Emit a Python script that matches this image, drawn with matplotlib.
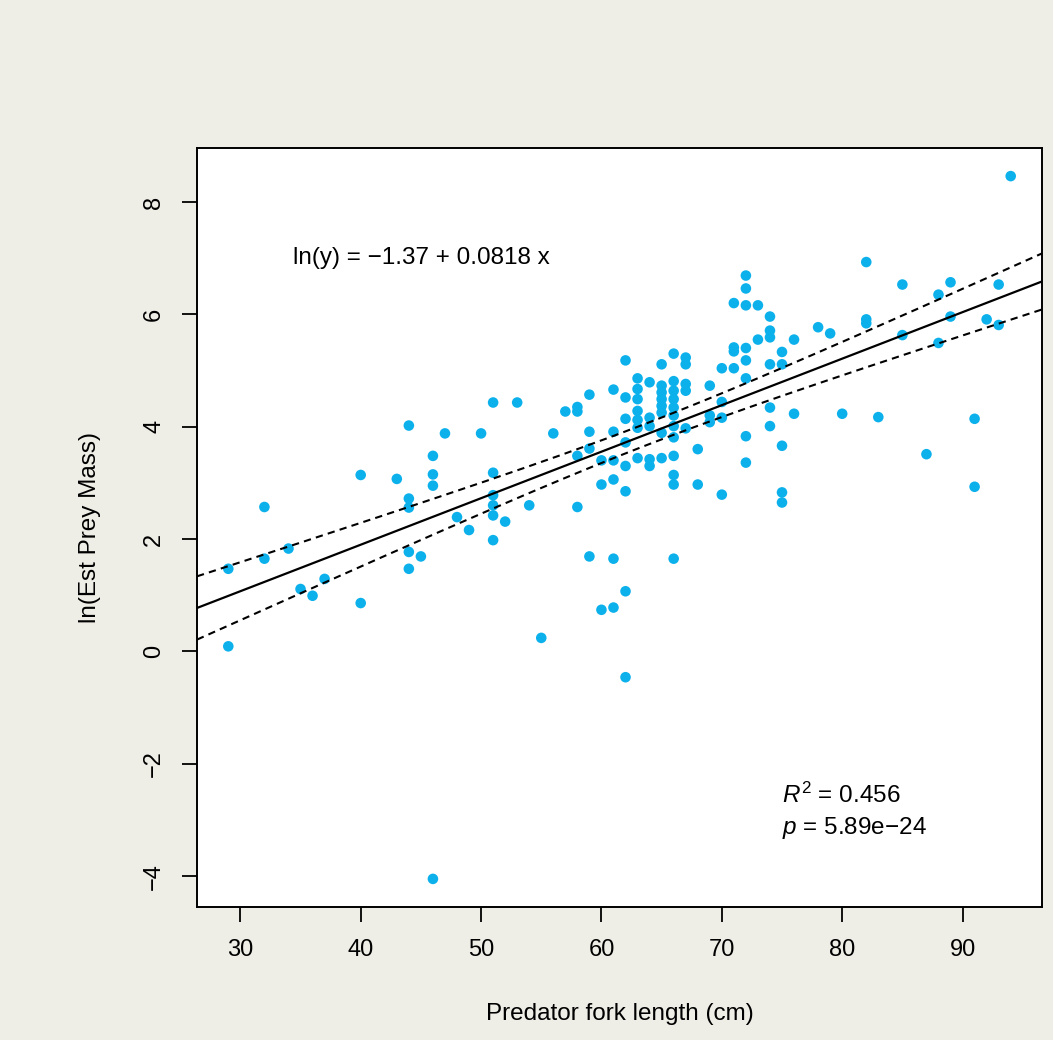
import numpy as np
import matplotlib
matplotlib.use("Agg")
import matplotlib.pyplot as plt

plt.rcParams["font.family"] = ["Liberation Sans", "DejaVu Sans"]
plt.rcParams["mathtext.fontset"] = "custom"
plt.rcParams["mathtext.rm"] = "Liberation Sans"
plt.rcParams["mathtext.it"] = "Liberation Sans:italic"

# predator fork length (cm) and ln(estimated prey mass)
fork_length = [
    29, 29, 32, 32, 34, 35, 36, 37, 40, 40, 43,
    44, 44, 44, 44, 44, 45, 46, 46, 46, 46, 47, 48, 49, 50,
    51, 51, 51, 51, 51, 51, 52, 53, 54, 55, 56, 57,
    58, 58, 58, 58, 59, 59, 59, 59, 60, 60, 60,
    61, 61, 61, 61, 61, 61,
    62, 62, 62, 62, 62, 62, 62, 62,
    63, 63, 63, 63, 63, 63, 63,
    64, 64, 64, 64, 64,
    65, 65, 65, 65, 65, 65, 65, 65,
    66, 66, 66, 66, 66, 66, 66, 66, 66, 66, 66, 66,
    67, 67, 67, 67, 67, 68, 68, 69, 69, 69,
    70, 70, 70, 70, 71, 71, 71, 71,
    72, 72, 72, 72, 72, 72, 72, 72, 73, 73,
    74, 74, 74, 74, 74, 74, 75, 75, 75, 75, 75, 76, 76,
    78, 79, 80, 82, 82, 82, 83, 85, 85, 87, 88, 88, 89, 89,
    91, 91, 92, 93, 93, 94,
]
ln_prey_mass = [
    1.47, 0.09, 2.57, 1.65, 1.83, 1.11, 0.99, 1.29, 3.14, 0.86, 3.07,
    4.02, 2.72, 2.56, 1.77, 1.47, 1.69, 3.48, 3.15, 2.95, -4.05, 3.88, 2.39, 2.16, 3.88,
    4.43, 3.18, 2.78, 2.60, 2.42, 1.98, 2.31, 4.43, 2.60, 0.24, 3.88, 4.27,
    4.35, 4.27, 3.48, 2.57, 4.57, 3.91, 3.61, 1.69, 3.40, 2.97, 0.74,
    4.66, 3.91, 3.40, 3.06, 1.65, 0.78,
    5.18, 4.52, 4.14, 3.72, 3.30, 2.85, 1.07, -0.46,
    4.86, 4.67, 4.49, 4.28, 4.12, 3.98, 3.44,
    4.79, 4.16, 4.01, 3.42, 3.30,
    5.11, 4.73, 4.61, 4.49, 4.37, 4.25, 3.89, 3.44,
    5.30, 4.81, 4.64, 4.49, 4.34, 4.20, 4.01, 3.81, 3.48, 3.14, 2.97, 1.65,
    5.23, 5.11, 4.76, 4.64, 3.97, 3.60, 2.97, 4.73, 4.20, 4.08,
    5.04, 4.44, 4.16, 2.79, 6.20, 5.41, 5.34, 5.04,
    6.69, 6.46, 6.16, 5.40, 5.18, 4.86, 3.83, 3.36, 6.16, 5.55,
    5.96, 5.71, 5.59, 5.11, 4.34, 4.01, 5.33, 5.11, 3.66, 2.83, 2.65, 5.55, 4.23,
    5.77, 5.66, 4.23, 6.93, 5.91, 5.84, 4.17, 6.53, 5.63, 3.51, 6.35, 5.49, 6.57, 5.96,
    4.14, 2.93, 5.91, 6.53, 5.81, 8.46,
]

x_ticks = [30, 40, 50, 60, 70, 80, 90]
y_ticks = [-4, -2, 0, 2, 4, 6, 8]
eq_label = "ln(y) = \u22121.37 + 0.0818 x"
r2_label = "$R^2$ = 0.456"
p_label = "$p$ = 5.89e\u221224"

x = np.asarray(fork_length, dtype=float)
y = np.asarray(ln_prey_mass, dtype=float)

# least squares fit with 95% confidence band for the mean
n = len(x)
slope, intercept = np.polyfit(x, y, 1)
resid = y - (intercept + slope * x)
s = np.sqrt(np.sum(resid ** 2) / (n - 2))
sxx = np.sum((x - x.mean()) ** 2)
t_crit = 1.974

xmin, xmax = x.min(), x.max()
pad_x = 0.04 * (xmax - xmin)
ymin, ymax = y.min(), y.max()
pad_y = 0.04 * (ymax - ymin)
xlim = (xmin - pad_x, xmax + pad_x)
ylim = (ymin - pad_y, ymax + pad_y)

xs = np.linspace(xlim[0], xlim[1], 200)
fit = intercept + slope * xs
half = t_crit * s * np.sqrt(1.0 / n + (xs - x.mean()) ** 2 / sxx)

fig = plt.figure(figsize=(10.53, 10.40), dpi=100, facecolor="#efeee6")
panel = fig.add_axes([76 / 1053, 0, 1 - 76 / 1053, 1 - 29 / 1040])
panel.set_facecolor("white")
panel.set_axis_off()

ax = fig.add_axes([197 / 1053, 1 - 907 / 1040, (1042 - 197) / 1053, (907 - 148) / 1040])
ax.scatter(x, y, s=58, color="#0cb1ec", edgecolors="none", zorder=3)
ax.plot(xs, fit, color="black", linewidth=1.6, zorder=4)
ax.plot(xs, fit + half, color="black", linewidth=1.5, dashes=(3.5, 2.5), zorder=4)
ax.plot(xs, fit - half, color="black", linewidth=1.5, dashes=(3.5, 2.5), zorder=4)

ax.set_xlim(*xlim)
ax.set_ylim(*ylim)
ax.set_xticks(x_ticks)
ax.set_yticks(y_ticks)
ax.tick_params(direction="out", length=11, width=1.3, labelsize=17, pad=12)
for label in ax.get_yticklabels():
    label.set_rotation(90)
    label.set_va("center")
for spine in ax.spines.values():
    spine.set_linewidth(1.4)

ax.set_xlabel("Predator fork length (cm)", fontsize=17.5, labelpad=30)
ax.set_ylabel("ln(Est Prey Mass)", fontsize=17.5, labelpad=30)

ax.text(45, 7.0, eq_label, fontsize=17.5, ha="center", va="center")
ax.text(75, -2.56, r2_label, fontsize=17.5, ha="left", va="center")
ax.text(75, -3.15, p_label, fontsize=17.5, ha="left", va="center")

fig.savefig("out.png", dpi=100, facecolor=fig.get_facecolor())
